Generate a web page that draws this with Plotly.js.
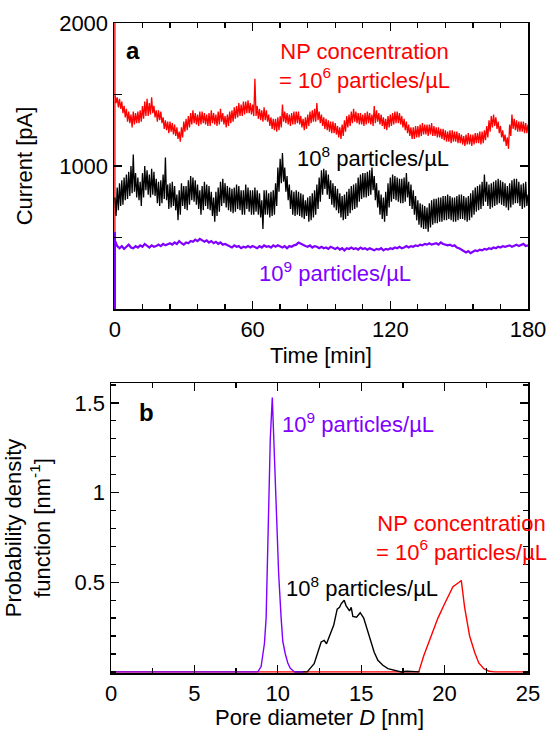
<!DOCTYPE html>
<html><head><meta charset="utf-8">
<script src="https://cdn.plot.ly/plotly-3.0.1.min.js"></script>
<style>html,body{margin:0;padding:0;background:#fff;}</style>
</head><body>
<div id="chart" style="width:555px;height:730px"></div>
<script>
// ---------- Panel a: current vs time ----------
// red and black: one sample every 0.5 min (0..180 min); purple: one sample per minute
const redCurrent = [
1510,1440,1480,1410,1470,1400,1450,1370,1420,1340,1400,1310,1380,1300,1360,1270,1380,1290,1370,1300,
1380,1300,1390,1310,1420,1330,1450,1350,1470,1350,1440,1360,1480,1370,1420,1340,1390,1310,1390,1320,
1380,1300,1340,1260,1320,1250,1310,1230,1310,1240,1300,1220,1290,1210,1270,1190,1240,1170,1270,1200,
1310,1240,1330,1250,1350,1270,1370,1290,1390,1300,1370,1290,1360,1280,1380,1290,1380,1300,1370,1290,
1360,1280,1370,1280,1390,1300,1370,1290,1360,1280,1380,1290,1400,1310,1370,1290,1350,1270,1360,1280,
1380,1300,1390,1310,1410,1330,1420,1340,1440,1350,1430,1350,1450,1360,1450,1370,1460,1370,1440,1360,
1430,1350,1610,1350,1420,1330,1400,1320,1390,1310,1410,1320,1390,1310,1360,1280,1340,1260,1330,1250,
1330,1240,1340,1250,1350,1270,1430,1310,1380,1300,1370,1290,1360,1280,1370,1290,1380,1290,1380,1300,
1380,1290,1350,1270,1330,1250,1340,1260,1360,1280,1380,1300,1390,1310,1400,1310,1440,1320,1380,1300,
1360,1280,1340,1260,1330,1250,1320,1240,1310,1230,1310,1230,1300,1220,1280,1200,1270,1190,1290,1210,
1320,1240,1350,1270,1360,1280,1380,1300,1400,1310,1380,1300,1370,1290,1370,1290,1360,1280,1370,1290,
1380,1300,1370,1290,1360,1280,1420,1300,1390,1310,1370,1290,1360,1280,1340,1260,1330,1250,1350,1270,
1360,1280,1370,1290,1380,1300,1380,1300,1370,1290,1350,1270,1330,1250,1310,1230,1290,1210,1270,1190,
1270,1190,1280,1200,1280,1200,1290,1210,1300,1220,1290,1220,1290,1210,1290,1220,1300,1210,1280,1210,
1270,1200,1270,1200,1260,1190,1260,1180,1250,1170,1240,1170,1250,1160,1250,1170,1240,1170,1240,1160,
1230,1160,1220,1150,1210,1140,1220,1150,1230,1150,1220,1140,1220,1150,1230,1160,1230,1160,1240,1150,
1240,1160,1250,1180,1280,1200,1320,1240,1350,1270,1360,1280,1340,1260,1310,1230,1280,1200,1250,1170,
1220,1140,1200,1120,1290,1210,1360,1260,1330,1250,1320,1240,1310,1240,1310,1240,1310,1230,1300,1230,1290];
const blackCurrent = [
780,650,850,690,880,720,900,730,920,760,940,770,960,790,1000,810,1080,820,950,780,
920,760,890,720,950,780,1000,830,970,800,940,780,980,800,960,790,910,740,890,720,
900,740,940,770,1060,760,870,700,880,710,890,720,860,690,800,620,830,660,880,720,
860,700,860,690,900,730,930,760,920,750,900,730,870,700,830,660,860,690,890,720,
870,700,860,690,820,650,780,610,820,650,850,680,890,720,910,740,880,710,860,690,
850,680,840,670,850,680,870,700,860,690,830,660,830,660,870,700,850,680,830,660,
830,660,850,680,830,660,810,640,760,560,830,660,830,660,810,640,820,650,830,660,
880,720,990,820,1050,880,1090,890,990,820,930,760,870,700,830,660,820,650,830,660,
820,650,810,640,800,630,760,650,780,610,790,620,810,640,830,660,870,700,920,750,
970,800,980,840,970,800,940,770,900,730,880,710,860,690,840,670,810,640,790,620,
800,630,820,650,840,670,860,690,870,700,880,710,920,750,940,770,950,780,950,780,
960,790,970,800,990,830,930,760,880,710,830,660,800,630,780,610,820,650,880,710,
920,750,940,770,930,760,920,750,910,740,910,740,920,750,950,780,890,720,870,700,
830,660,790,620,760,590,740,570,730,560,720,560,710,540,740,570,760,590,770,600,
770,600,780,610,780,610,790,620,790,620,800,630,790,620,780,610,780,610,790,620,
800,630,800,630,790,620,780,610,790,620,810,640,830,660,850,680,860,690,870,700,
890,720,940,750,890,720,870,700,880,710,890,720,900,730,910,740,900,730,890,720,
880,710,860,690,880,710,900,730,910,740,910,740,890,720,870,700,880,710,890,720,800];
const purpleCurrent = [
480,440,425,440,420,435,450,430,425,440,
430,445,435,455,440,430,445,435,440,450,
440,455,445,450,460,450,465,455,475,460,
450,465,460,475,470,485,475,490,480,470,
480,465,475,460,470,455,465,450,455,445,
440,430,445,435,440,425,435,430,440,430,
440,435,425,440,430,445,435,440,430,445,
435,445,440,430,440,425,440,435,445,450,
465,455,445,440,435,445,430,440,435,425,
435,425,430,420,435,425,420,430,415,425,
410,425,420,430,420,425,415,430,420,425,
415,425,420,410,420,415,425,410,420,415,
425,420,430,425,435,425,430,440,430,440,
435,445,440,450,445,455,450,460,450,455,
460,450,465,455,450,445,450,440,445,430,
425,415,410,395,405,390,400,410,405,415,
410,420,415,425,420,430,425,435,430,440,
435,440,445,435,440,450,440,445,455,440,445];
// switch-on transients at t = 0
const redStartCurrent = [540, 2100];
const purpleStartCurrent = [0, 540];

// ---------- Panel b: pore diameter distributions ----------
const purpleD   = [0, 8.8, 9.0, 9.1, 9.2, 9.3, 9.45, 9.55, 9.67, 9.78, 9.9, 10.05, 10.2, 10.3, 10.45, 10.6, 10.75, 11.0, 11.5];
const purplePdf = [0, 0,   0.03,0.1, 0.16,0.3, 0.9,  1.3,  1.53, 1.25, 0.9, 0.55,  0.3,  0.17, 0.1,   0.05, 0.02,  0,    0];
const blackD   = [11.0, 11.76, 12.18, 12.39, 12.6, 12.78, 12.92, 13.1, 13.35, 13.56, 13.7, 13.8, 13.98, 14.09, 14.2, 14.3, 14.4, 14.5, 14.72, 14.94, 15.15, 15.36, 15.57, 15.78, 16.0, 16.3, 16.6, 17.05, 17.4, 17.7, 18.1, 18.5];
const blackPdf = [0,    0,     0.046, 0.11,  0.167,0.176, 0.157, 0.2,  0.26,  0.35,  0.36, 0.38, 0.40,  0.37,  0.35, 0.34, 0.36, 0.31, 0.305, 0.33,  0.30,  0.24,  0.176, 0.11,  0.065,0.037,0.018,0.009, 0,    0.004,0,    0];
const redD   = [0, 18.45, 18.75, 19.17, 19.6, 20.0, 20.5, 20.87, 21.0, 21.2, 21.5, 21.8, 22.05, 22.35, 22.67, 23.0, 25];
const redPdf = [0, 0,     0.09,  0.2,   0.3,  0.38, 0.475,0.5,   0.51, 0.36, 0.2,  0.11, 0.05,  0.018, 0.004, 0,    0];

const RED = '#ff0000', BLACK = '#000000', PURPLE = '#8000ff';
const FONT = 'Liberation Sans, Arial, sans-serif';

const halfMin = [];
for (let i = 0; i < redCurrent.length; i++) halfMin.push(i / 2);
const fullMin = [];
for (let i = 0; i < purpleCurrent.length; i++) fullMin.push(i);

const traces = [
  {x: [0, 0].concat(halfMin), y: redStartCurrent.concat(redCurrent), xaxis: 'x', yaxis: 'y',
   mode: 'lines', line: {color: RED, width: 1.3}},
  {x: halfMin, y: blackCurrent, xaxis: 'x', yaxis: 'y', mode: 'lines', line: {color: BLACK, width: 1.3}},
  {x: [0, 0].concat(fullMin), y: purpleStartCurrent.concat(purpleCurrent), xaxis: 'x', yaxis: 'y',
   mode: 'lines', line: {color: PURPLE, width: 2.2}},
  {x: redD, y: redPdf, xaxis: 'x2', yaxis: 'y2', mode: 'lines', line: {color: RED, width: 1.4}},
  {x: blackD, y: blackPdf, xaxis: 'x2', yaxis: 'y2', mode: 'lines', line: {color: BLACK, width: 1.4}},
  {x: purpleD, y: purplePdf, xaxis: 'x2', yaxis: 'y2', mode: 'lines', line: {color: PURPLE, width: 1.4}}
];

const axCommon = {
  showline: true, linecolor: BLACK, linewidth: 1.5, mirror: 'ticks',
  ticks: 'inside', ticklen: 8, tickwidth: 1.3, tickcolor: BLACK,
  showgrid: false, zeroline: false, automargin: false,
  tickfont: {family: FONT, size: 22, color: BLACK}
};
const minorTicks = (d, len) => ({tickmode: 'linear', tick0: 0, dtick: d, ticks: 'inside', ticklen: len, tickwidth: 1.3, tickcolor: BLACK, showgrid: false});

const layout = {
  width: 555, height: 730,
  margin: {l: 0, r: 0, t: 0, b: 0},
  paper_bgcolor: '#fff', plot_bgcolor: '#fff',
  showlegend: false,
  font: {family: FONT, size: 22, color: BLACK},
  xaxis: Object.assign({}, axCommon, {
    domain: [114/555, 528/555], anchor: 'y', range: [-0.4, 180],
    tickmode: 'linear', tick0: 0, dtick: 60, minor: minorTicks(12, 5),
    title: {text: 'Time [min]', standoff: 6, font: {family: FONT, size: 22}}
  }),
  yaxis: Object.assign({}, axCommon, {
    domain: [1 - 309/730, 1 - 23/730], anchor: 'x', range: [0, 2000],
    tickmode: 'array', tickvals: [1000, 2000], ticktext: ['1000', '2000'],
    minor: minorTicks(500, 8),
    title: {text: 'Current [pA]', standoff: 20, font: {family: FONT, size: 22}}
  }),
  xaxis2: Object.assign({}, axCommon, {
    domain: [111/555, 528/555], anchor: 'y2', range: [0, 25],
    tickmode: 'linear', tick0: 0, dtick: 5, minor: minorTicks(2.5, 5),
    title: {text: 'Pore diameter <i>D</i> [nm]', standoff: 6, font: {family: FONT, size: 22}}
  }),
  yaxis2: Object.assign({}, axCommon, {
    domain: [1 - 673/730, 1 - 383/730], anchor: 'x2', range: [-0.006, 1.611],
    tickmode: 'array', tickvals: [0.5, 1, 1.5], ticktext: ['0.5', '1', '1.5'],
    minor: minorTicks(0.1, 5),
    title: {text: 'Probability density<br>function [nm<sup>-1</sup>]', standoff: 18, font: {family: FONT, size: 22}}
  }),
  annotations: [
    {xref: 'x', yref: 'y', x: 7.8, y: 1811, text: '<b>a</b>', showarrow: false, font: {family: FONT, size: 24, color: BLACK}},
    {xref: 'x', yref: 'y', x: 108.7, y: 1699, text: 'NP concentration<br>= 10<sup>6</sup> particles/µL', showarrow: false, font: {family: FONT, size: 22, color: RED}},
    {xref: 'x', yref: 'y', x: 112.6, y: 1063, text: '10<sup>8</sup> particles/µL', showarrow: false, font: {family: FONT, size: 22, color: BLACK}},
    {xref: 'x', yref: 'y', x: 96.1, y: 259, text: '10<sup>9</sup> particles/µL', showarrow: false, font: {family: FONT, size: 22, color: PURPLE}},
    {xref: 'x2', yref: 'y2', x: 2.1, y: 1.444, text: '<b>b</b>', showarrow: false, font: {family: FONT, size: 24, color: BLACK}},
    {xref: 'x2', yref: 'y2', x: 14.8, y: 1.389, text: '10<sup>9</sup> particles/µL', showarrow: false, font: {family: FONT, size: 22, color: PURPLE}},
    {xref: 'x2', yref: 'y2', x: 21.04, y: 0.747, text: 'NP concentration<br>= 10<sup>6</sup> particles/µL', showarrow: false, font: {family: FONT, size: 22, color: RED}},
    {xref: 'x2', yref: 'y2', x: 15.05, y: 0.472, text: '10<sup>8</sup> particles/µL', showarrow: false, font: {family: FONT, size: 22, color: BLACK}}
  ]
};

Plotly.newPlot('chart', traces, layout, {staticPlot: true, displayModeBar: false});
</script>
</body></html>
